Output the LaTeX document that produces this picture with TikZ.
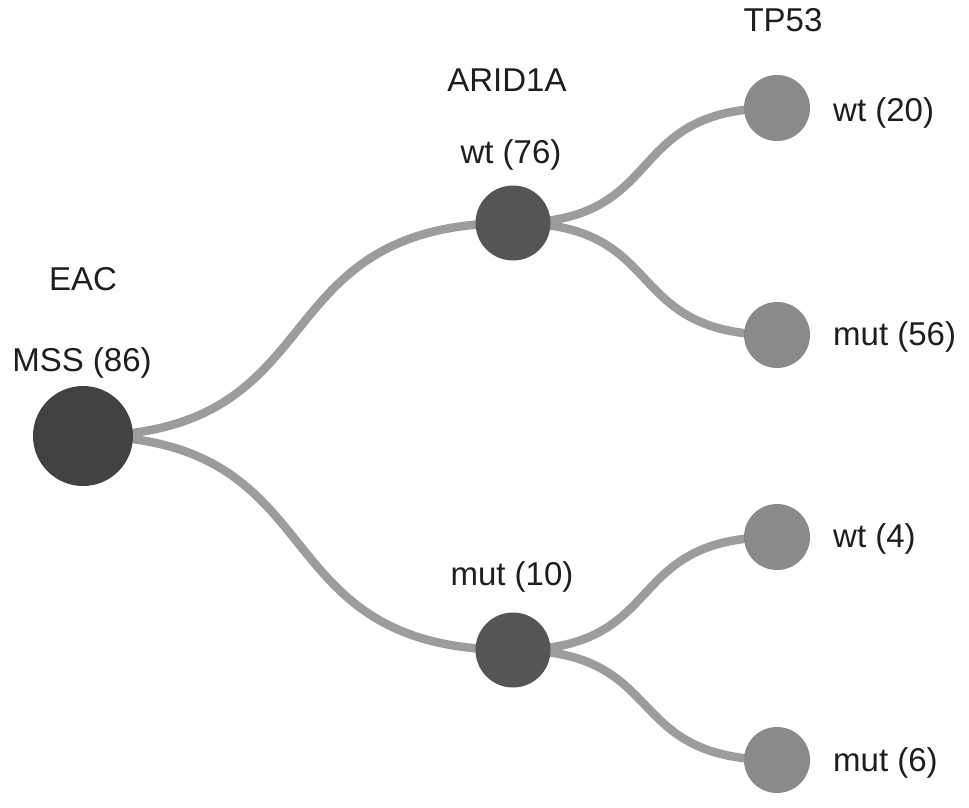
\documentclass[tikz,border=0pt]{standalone}
\usepackage{fontspec}
\setmainfont{Liberation Sans}
\usetikzlibrary{calc}
\definecolor{rootc}{HTML}{424242}
\definecolor{midc}{HTML}{555555}
\definecolor{leafc}{HTML}{8A8A8A}
\definecolor{linkc}{HTML}{9C9C9C}
\definecolor{txtc}{HTML}{1E1E1E}
\tikzset{
  dot/.style={circle, inner sep=0pt, draw=none},
  rootdot/.style={dot, fill=rootc, minimum size=100pt},
  middot/.style={dot, fill=midc, minimum size=75pt},
  leafdot/.style={dot, fill=leafc, minimum size=66pt},
  link/.style={draw=linkc, line width=8.5pt},
  lbl/.style={font=\fontsize{33}{36}\selectfont, text=txtc, inner sep=0pt},
}
\newcommand{\treelink}[2]{%
  \draw[link] let \p1=(#1.center), \p2=(#2.center) in
    (#1.center) .. controls ({\x1+0.6*(\x2-\x1)},\y1) and ({\x2-0.6*(\x2-\x1)},\y2) .. (#2.center);}
\begin{document}
\begin{tikzpicture}[x=1pt,y=-1pt]
\useasboundingbox[fill=white] (0,0) rectangle (969,808);
% node positions
\coordinate (pr) at (83,436);
\coordinate (pa) at (513,223);
\coordinate (pb) at (513,650);
\coordinate (p1) at (777,108);
\coordinate (p2) at (777,335);
\coordinate (p3) at (777,537);
\coordinate (p4) at (777,760);
% invisible anchors for links
\node[dot] (r0) at (pr) {};
\node[dot] (a0) at (pa) {};
\node[dot] (b0) at (pb) {};
\node[dot] (l10) at (p1) {};
\node[dot] (l20) at (p2) {};
\node[dot] (l30) at (p3) {};
\node[dot] (l40) at (p4) {};
% links
\treelink{r0}{a0}
\treelink{r0}{b0}
\treelink{a0}{l10}
\treelink{a0}{l20}
\treelink{b0}{l30}
\treelink{b0}{l40}
% circles
\node[rootdot] (root) at (pr) {};
\node[middot] (wta) at (pa) {};
\node[middot] (muta) at (pb) {};
\node[leafdot] (wt1) at (p1) {};
\node[leafdot] (mut1) at (p2) {};
\node[leafdot] (wt2) at (p3) {};
\node[leafdot] (mut2) at (p4) {};
% labels
\node[lbl, anchor=base] (teac) at (83,290) {EAC};
\node[lbl, anchor=base] (tmss) at (82,371) {MSS (86)};
\node[lbl, anchor=base] (tarid) at (507,92) {ARID1A};
\node[lbl, anchor=base] (twt76) at (511,163) {wt (76)};
\node[lbl, anchor=base] (tmut10) at (512,585) {mut (10)};
\node[lbl, anchor=base] (ttp) at (783,32) {TP53};
\node[lbl, anchor=base west] (twt20) at (833,121) {wt (20)};
\node[lbl, anchor=base west] (tmut56) at (833,345) {mut (56)};
\node[lbl, anchor=base west] (twt4) at (833,547) {wt (4)};
\node[lbl, anchor=base west] (tmut6) at (833,771) {mut (6)};
\end{tikzpicture}
\end{document}
